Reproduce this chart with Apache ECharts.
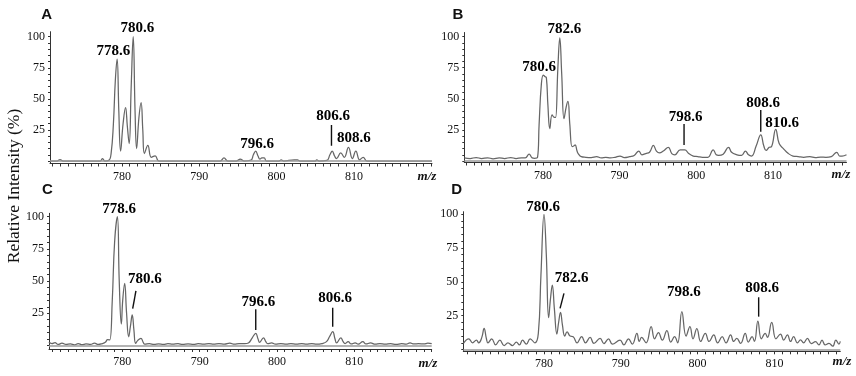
<!DOCTYPE html>
<html>
<head>
<meta charset="utf-8">
<script src="https://cdn.jsdelivr.net/npm/echarts@6/dist/echarts.min.js"></script>
<style>
  html, body { margin: 0; background: #fff; }
  #chart { width: 856px; height: 376px; }
</style>
</head>
<body>
<div id="chart"></div>
<script>
// spectra: [m/z, relative intensity %]
const spectrumA = [
  [770.7, 0], [771.6, 0], [772.0, 1.2], [772.4, 0], [777.2, 0], [777.5, 2], [777.8, 0], [778.3, 0.5],
  [778.6, 6], [778.9, 30], [779.15, 65], [779.38, 82], [779.6, 40], [779.83, 8], [780.15, 30], [780.47, 43],
  [780.7, 28], [780.94, 14], [781.2, 60], [781.46, 100], [781.7, 40], [781.9, 10], [782.2, 35], [782.48, 47],
  [782.7, 25], [782.91, 6], [783.35, 12.5], [783.8, 3], [784.3, 4.2], [784.8, 0], [792.7, 0], [793.2, 2.5],
  [793.7, 0], [794.8, 0], [795.3, 1.5], [795.8, 0], [796.7, 0.8], [797.0, 5], [797.3, 8], [797.6, 4],
  [797.85, 1.5], [798.1, 2.5], [798.4, 2.5], [798.7, 0], [800.3, 0], [800.6, 1], [800.9, 0], [802.3, 1],
  [802.7, 1], [803.0, 0], [805.0, 0], [805.2, 1], [805.5, 0], [806.5, 0.5], [806.9, 5], [807.2, 8],
  [807.5, 4], [807.75, 2], [808.3, 6.5], [808.75, 3], [809.3, 11], [809.8, 2], [810.25, 8], [810.75, 1],
  [811.2, 3], [811.7, 0], [820.1, 0]
];
const spectrumB = [
  [769.75, 2.5], [770.5, 2], [771.3, 2.8], [772.0, 2], [772.8, 2.6], [773.5, 1.8], [774.3, 2.5], [775.0, 2],
  [775.8, 2.8], [776.5, 2], [777.2, 2.5], [777.7, 2.5], [778.2, 5.5], [778.6, 2.5], [778.9, 2.2], [779.3, 3],
  [779.5, 29], [779.8, 62], [780.05, 69], [780.25, 68], [780.45, 67], [780.65, 45], [780.9, 26], [781.2, 37],
  [781.5, 35], [781.65, 35], [781.95, 75], [782.2, 99], [782.45, 70], [782.75, 34], [783.05, 44], [783.27, 48],
  [783.5, 30], [783.8, 11.5], [784.0, 12], [784.2, 13], [784.45, 8], [784.6, 6], [785.0, 3.5], [785.6, 3],
  [786.3, 2.8], [787.0, 3.5], [787.6, 2.5], [788.2, 3], [788.8, 2.5], [789.4, 3], [790.05, 4], [790.6, 2.8],
  [791.3, 3.5], [791.9, 4.5], [792.5, 8], [792.9, 5], [793.4, 6], [793.9, 7], [794.4, 12.5], [794.8, 8],
  [795.2, 6.5], [795.7, 8], [796.35, 11], [796.8, 6], [797.2, 5], [797.9, 9], [798.5, 9], [799.0, 6],
  [799.6, 4], [800.2, 3.5], [800.8, 3], [801.5, 3], [802.2, 9], [802.6, 5], [802.9, 4.5], [803.5, 5.5],
  [804.2, 11], [804.6, 7], [805.3, 5], [805.9, 4.5], [806.4, 8], [806.8, 5], [807.2, 4], [807.8, 12],
  [808.4, 21], [808.8, 12], [809.1, 8.5], [809.5, 11], [809.8, 11.5], [810.35, 25.5], [810.8, 14], [811.35, 10],
  [812.0, 6], [812.6, 4], [813.3, 3.5], [814.0, 3], [814.8, 3.5], [815.5, 2.8], [816.2, 3.2], [816.9, 3],
  [817.6, 3.5], [818.3, 7], [818.7, 4], [819.0, 4], [819.58, 5]
];
const spectrumC = [
  [770.5, 2.5], [770.9, 1.5], [771.3, 2.2], [771.7, 0.8], [772.2, 1.8], [772.7, 0.8], [773.3, 1.2], [773.8, 0.5],
  [774.3, 1.5], [774.8, 0.6], [775.3, 1.2], [775.9, 0.8], [776.4, 1.8], [776.9, 0.8], [777.4, 1.5], [777.8, 2.5],
  [778.1, 4.5], [778.37, 4.3], [778.7, 35], [779.0, 80], [779.36, 100], [779.6, 50], [779.87, 16.7], [780.05, 35],
  [780.3, 48.3], [780.55, 25], [780.82, 6.8], [781.05, 15], [781.28, 23.7], [781.5, 12], [781.72, 1.7], [782.0, 4],
  [782.4, 5.6], [782.7, 2.5], [782.9, 1], [783.5, 1.5], [784.1, 0.8], [784.7, 1.2], [785.3, 0.8], [785.9, 1.5],
  [786.5, 1], [787.2, 1.5], [787.8, 0.8], [788.5, 1.2], [789.2, 0.8], [789.8, 1.5], [790.5, 1], [791.2, 1.5],
  [791.8, 1], [792.5, 1.5], [793.2, 1], [793.9, 1.8], [794.5, 1], [795.1, 1.5], [795.8, 1.5], [796.3, 2],
  [796.8, 6], [797.25, 9.5], [797.55, 5], [797.75, 2.5], [798.25, 6], [798.55, 3], [798.8, 1.5], [799.3, 2],
  [799.8, 1], [800.5, 1.5], [801.2, 1], [801.8, 1.5], [802.5, 1], [803.2, 1.5], [803.8, 1], [804.5, 1.5],
  [805.1, 1], [805.8, 1.5], [806.4, 3], [806.8, 7], [807.2, 10.7], [807.5, 5], [807.7, 2], [808.25, 6],
  [808.55, 3], [808.8, 1.5], [809.2, 3], [809.6, 1.2], [810.1, 2], [810.5, 1], [811.1, 3], [811.5, 1.2],
  [812.1, 2], [812.7, 1], [813.3, 1.5], [814.0, 1], [814.7, 1.5], [815.4, 0.8], [816.1, 1.5], [816.7, 1],
  [817.2, 2], [817.7, 1.2], [818.3, 1.5], [819.0, 1.2], [819.5, 1.8], [820.0, 1.5]
];
const spectrumD = [
  [769.5, 4.6], [770.2, 8], [770.7, 5], [771.2, 7], [771.5, 5], [771.9, 9], [772.2, 15.7], [772.5, 8],
  [772.7, 5], [773.2, 8], [773.7, 3.5], [774.25, 7], [774.8, 3], [775.3, 5], [775.9, 3], [776.4, 5.5],
  [776.8, 3.5], [777.2, 7], [777.7, 4], [778.2, 8], [778.8, 5], [779.26, 12], [779.6, 55], [780.0, 99.8],
  [780.3, 70], [780.6, 23.5], [780.85, 38], [781.08, 47.6], [781.35, 30], [781.67, 11.5], [781.9, 20], [782.15, 27.5],
  [782.4, 18], [782.7, 10], [783.0, 13], [783.4, 10], [783.8, 9.5], [784.3, 5], [784.9, 9.5], [785.4, 5],
  [786.0, 9], [786.5, 4.6], [787.3, 8.3], [787.8, 4.5], [788.4, 8], [788.9, 4], [789.9, 7], [790.4, 3.5],
  [791.0, 8], [791.5, 4], [792.1, 12], [792.4, 6], [792.7, 9], [793.3, 5], [793.95, 17], [794.4, 8],
  [794.9, 12.5], [795.4, 7], [796.0, 14], [796.5, 5.5], [797.0, 9.5], [797.4, 5], [797.95, 28], [798.5, 10],
  [799.0, 17], [799.4, 8], [799.9, 15.5], [800.4, 6], [801.0, 12], [801.5, 6], [802.1, 10.8], [802.6, 5],
  [803.2, 9.5], [803.7, 5], [804.3, 10.8], [804.7, 6], [805.1, 8.3], [805.6, 4.6], [806.2, 12], [806.6, 5.5],
  [807.1, 9.5], [807.4, 6], [807.85, 21], [808.3, 8], [808.8, 12], [809.1, 9], [809.65, 20], [810.2, 8],
  [810.8, 11.5], [811.2, 7], [811.7, 10.8], [812.1, 6], [812.5, 9.5], [813.0, 5], [813.4, 7.1], [813.8, 5],
  [814.3, 8.3], [814.8, 4.5], [815.35, 5.8], [815.8, 3.5], [816.2, 7], [816.6, 3.5], [817.1, 4.6], [817.6, 2.5],
  [818.0, 7], [818.4, 4], [818.58, 6]
];

// peak annotations: [text, m/z, intensity] and their leader segments
const labelsA = [['778.6', 778.9, 88], ['780.6', 782.0, 107], ['796.6', 797.5, 13.8], ['806.6', 807.3, 35.8], ['808.6', 810.0, 18.4]];
const leadersA = [[[807.1, 29], [807.1, 12.2]]];
const labelsB = [['780.6', 779.5, 75.8], ['782.6', 782.8, 106], ['798.6', 798.6, 35.6], ['808.6', 808.7, 46.9], ['810.6', 811.2, 30.3]];
const leadersB = [[[798.4, 29.7], [798.4, 12.9]], [[808.4, 41], [808.4, 23.6]]];
const labelsC = [['778.6', 779.6, 105.7], ['780.6', 782.9, 51.4], ['796.6', 797.6, 34], ['806.6', 807.5, 36.6]];
const leadersC = [[[781.76, 42.5], [781.34, 28.6]], [[797.25, 28.1], [797.25, 12]], [[807.2, 29.4], [807.2, 14.6]]];
const labelsD = [['780.6', 779.87, 105], ['782.6', 783.6, 52.6], ['798.6', 798.2, 42.7], ['808.6', 808.4, 45.2]];
const leadersD = [[[782.6, 41.5], [782.09, 30.4]], [[807.95, 38.6], [807.95, 24.3]]];

const xTickLabels = [780, 790, 800, 810];
const yTickLabels = [25, 50, 75, 100];
const yMinorTicks = [0, 5, 10, 15, 20, 25, 30, 35, 40, 45, 50, 55, 60, 65, 70, 75, 80, 85, 90, 95, 100];

// panel frames (px) and axis ranges as measured on the picture
const panels = [
  { tag: 'A', data: spectrumA, labels: labelsA, leaders: leadersA,
    grid: { left: 50, top: 31.7, width: 382, height: 131.8 }, x: [770.7, 820.1], y: [-2, 104] },
  { tag: 'B', data: spectrumB, labels: labelsB, leaders: leadersB,
    grid: { left: 464.3, top: 32.5, width: 382.2, height: 130 }, x: [769.75, 819.58], y: [-1.2, 103.3] },
  { tag: 'C', data: spectrumC, labels: labelsC, leaders: leadersC,
    grid: { left: 49, top: 213.3, width: 382.7, height: 135.7 }, x: [770.52, 820.0], y: [-2.7, 102.6] },
  { tag: 'D', data: spectrumD, labels: labelsD, leaders: leadersD,
    grid: { left: 463.3, top: 211.7, width: 377, height: 139.6 }, x: [769.49, 818.58], y: [-1.25, 101.7] },
];

const SERIF = '"Liberation Serif", "Times New Roman", serif';
const axisColor = '#333';

const chart = echarts.init(document.getElementById('chart'), null, { renderer: 'canvas' });

const intTicks = (lo, hi) => {
  const out = [];
  for (let v = Math.ceil(lo); v <= Math.floor(hi); v++) out.push(v);
  return out;
};

const xAxis = [];
const yAxis = [];
const series = [];

panels.forEach((p, i) => {
  xAxis.push({
    type: 'value', gridIndex: i, min: p.x[0], max: p.x[1], position: 'bottom',
    axisLine: { onZero: false, lineStyle: { color: axisColor, width: 1 } },
    axisTick: { customValues: intTicks(p.x[0], p.x[1]), length: 3, lineStyle: { color: axisColor } },
    axisLabel: { customValues: xTickLabels, fontFamily: SERIF, fontSize: 12, color: '#111', margin: 7 },
    splitLine: { show: false },
  });
  yAxis.push({
    type: 'value', gridIndex: i, min: p.y[0], max: p.y[1],
    axisLine: { show: true, onZero: false, lineStyle: { color: axisColor, width: 1 } },
    axisTick: { customValues: yMinorTicks, length: 2, lineStyle: { color: axisColor } },
    axisLabel: { customValues: yTickLabels, fontFamily: SERIF, fontSize: 12, color: '#111', margin: 5 },
    splitLine: { show: false },
  });

  series.push({
    name: 'spectrum' + p.tag, type: 'line', xAxisIndex: i, yAxisIndex: i,
    data: p.data, symbol: 'none', smooth: 0.45, silent: true,
    lineStyle: { color: '#666', width: 1.25 },
    markLine: {
      silent: true, symbol: 'none', label: { show: false },
      lineStyle: { color: '#9a9a9a', width: 1.5, type: 'solid' },
      data: [{ yAxis: 0 }],
    },
    z: 3,
  });

  // peak labels: invisible points carrying the text
  series.push({
    name: 'labels' + p.tag, type: 'scatter', xAxisIndex: i, yAxisIndex: i,
    clip: false, silent: true, symbolSize: 0,
    itemStyle: { opacity: 1, color: '#000' },
    data: p.labels.map(l => ({ name: l[0], value: [l[1], l[2]] })),
    label: {
      show: true, position: [0, 0], align: 'center', verticalAlign: 'middle', formatter: '{b}',
      fontFamily: SERIF, fontWeight: 'bold', fontSize: 15, color: '#000', opacity: 1, textBorderWidth: 0,
    },
    z: 5,
  });

  p.leaders.forEach(seg => {
    series.push({
      type: 'line', xAxisIndex: i, yAxisIndex: i, data: seg, symbol: 'none', silent: true,
      lineStyle: { color: '#111', width: 1.4 }, z: 4,
    });
  });
});

// m/z captions, panel letters and the shared y title
const mzPos = [[427, 177], [841, 175], [428, 364], [842, 362]];
const tagPos = [[46.7, 15], [458, 15], [47.5, 190], [456.7, 190]];
const graphic = [];
panels.forEach((p, i) => {
  graphic.push({
    type: 'text', x: mzPos[i][0], y: mzPos[i][1],
    style: { text: 'm/z', textAlign: 'center', textVerticalAlign: 'middle', fill: '#111', font: 'italic bold 13px ' + SERIF },
  });
  graphic.push({
    type: 'text', x: tagPos[i][0], y: tagPos[i][1],
    style: { text: p.tag, textAlign: 'center', textVerticalAlign: 'middle', fill: '#111', font: 'bold 15px "Liberation Sans", Arial, sans-serif' },
  });
});
graphic.push({
  type: 'text', x: 14, y: 186, rotation: Math.PI / 2,
  style: { text: 'Relative Intensity (%)', textAlign: 'center', textVerticalAlign: 'middle', fill: '#111', font: '17.5px ' + SERIF },
});

chart.setOption({
  animation: false,
  backgroundColor: '#fff',
  grid: panels.map(p => p.grid),
  xAxis,
  yAxis,
  series,
  graphic,
});
</script>
</body>
</html>
